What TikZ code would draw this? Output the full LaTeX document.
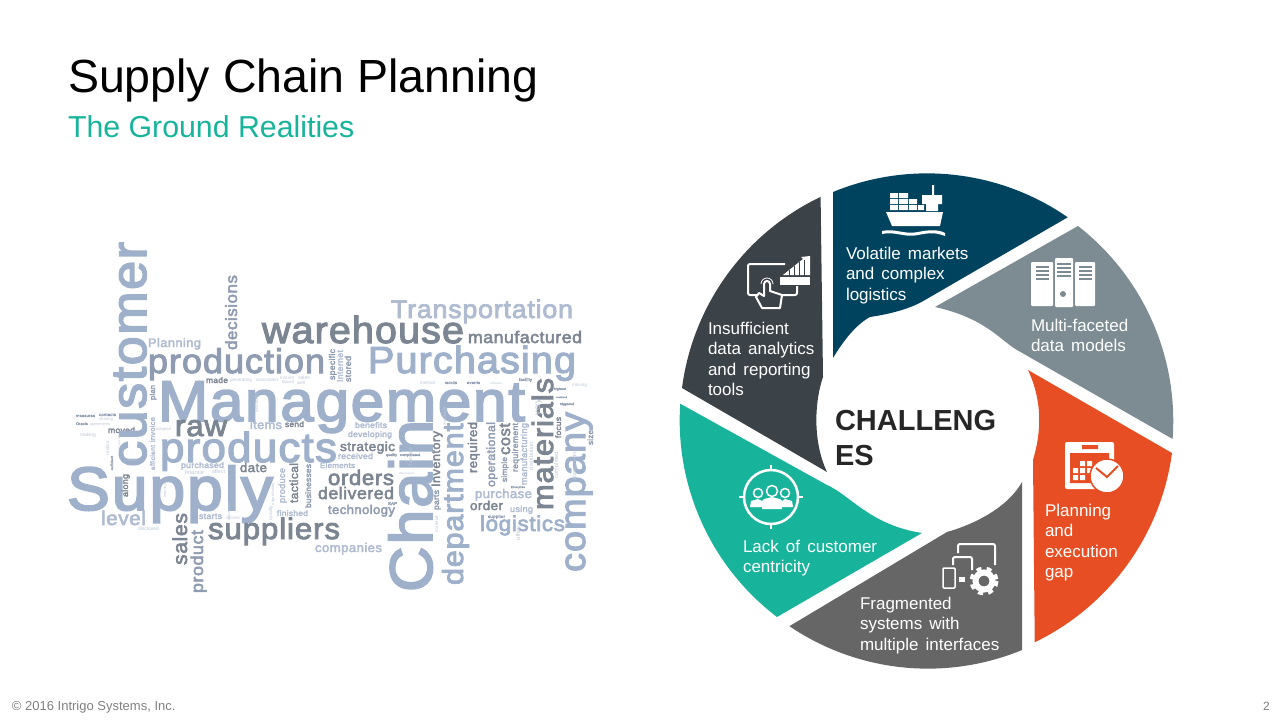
\documentclass[tikz,border=0pt]{standalone}
\usepackage{graphicx}
\usepackage{fontspec}
\setmainfont{Liberation Sans}
\newfontfamily\segfont[WordSpace=1.5]{Liberation Sans}
\newfontfamily\cloudfont[FakeBold=3,FakeStretch=1.05,LetterSpace=3]{Liberation Sans}
\definecolor{NavyFill}{HTML}{00435F}
\definecolor{SteelFill}{HTML}{7D8C93}
\definecolor{OrangeFill}{HTML}{E84E23}
\definecolor{MidFill}{HTML}{666666}
\definecolor{TealFill}{HTML}{17B49B}
\definecolor{SlateFill}{HTML}{3B4248}
\definecolor{CloudA}{HTML}{9FB0CB}
\definecolor{CloudB}{HTML}{7C8592}
\definecolor{CloudC}{HTML}{AEBBD1}
\definecolor{CloudD}{HTML}{8E9BB0}
\definecolor{CloudE}{HTML}{BDC6D6}
\newcommand{\fitword}[2]{\resizebox{#1pt}{!}{#2}}

\begin{document}
\begin{tikzpicture}[x=1pt,y=-1pt]
  \tikzset{CloudWord/.style = {
    inner sep     = 0pt,
    outer sep     = 0pt,
    anchor        = base west
    }
  }
  \tikzset{CloudBlue/.style  = {CloudWord, text = CloudA, font = \cloudfont}}
  \tikzset{CloudDark/.style  = {CloudWord, text = CloudB, font = \cloudfont}}
  \tikzset{CloudPale/.style  = {CloudWord, text = CloudC, font = \cloudfont}}
  \tikzset{CloudAsh/.style   = {CloudWord, text = CloudD, font = \cloudfont}}
  \tikzset{CloudTiny/.style  = {CloudWord, text = CloudE}}
  \tikzset{SegmentText/.style = {
    inner sep     = 0pt,
    outer sep     = 0pt,
    anchor        = north west,
    align         = left,
    text          = white,
    font          = \segfont\fontsize{17}{20.5}\selectfont
    }
  }
  \tikzset{PlainText/.style = {
    inner sep     = 0pt,
    outer sep     = 0pt,
    anchor        = base west
    }
  }

  \useasboundingbox (0,0) rectangle (1280,720);

  % titles
  \node[PlainText, font=\fontsize{46.5}{50}\selectfont, text=black](Title) at (68,92) {Supply Chain Planning};
  \node[PlainText, font=\fontsize{30.3}{34}\selectfont, text=TealFill](Subtitle) at (68,137) {The Ground Realities};
  \node[PlainText, font=\fontsize{13}{15}\selectfont, text=black!50](Footer) at (12,710) {\textcopyright{} 2016 Intrigo Systems, Inc.};
  \node[PlainText, font=\fontsize{12}{14}\selectfont, text=black!50](PageNo) at (1263,710) {2};

  % word cloud, horizontal
  \node[CloudBlue](W1) at (67,510) {\fitword{206}{Supply}};
  \node[CloudBlue](W2) at (158,421) {\fitword{367}{Management}};
  \node[CloudDark](W3) at (262,343) {\fitword{202}{warehouse}};
  \node[CloudPale](W4) at (391,318) {\fitword{182}{Transportation}};
  \node[CloudDark](W5) at (468,343) {\fitword{114}{manufactured}};
  \node[CloudAsh](W6) at (148,373) {\fitword{177}{production}};
  \node[CloudBlue](W7) at (368,373) {\fitword{208}{Purchasing}};
  \node[CloudPale](W8) at (148,347) {\fitword{53}{Planning}};
  \node[CloudDark](W9) at (175,436) {\fitword{52}{raw}};
  \node[CloudBlue](W10) at (160,462) {\fitword{177}{products}};
  \node[CloudDark](W11) at (108,433) {\fitword{27}{moved}};
  \node[CloudPale](W12) at (250,429) {\fitword{32}{items}};
  \node[CloudDark](W13) at (285,427) {\fitword{19}{send}};
  \node[CloudDark](W14) at (240,472) {\fitword{27}{date}};
  \node[CloudPale](W15) at (181,468) {\fitword{43}{purchased}};
  \node[CloudPale](W16) at (101,525) {\fitword{45}{level}};
  \node[CloudPale](W17) at (199,519) {\fitword{23}{starts}};
  \node[CloudPale](W18) at (277,516) {\fitword{31}{finished}};
  \node[CloudDark](W19) at (208,539) {\fitword{132}{suppliers}};
  \node[CloudPale](W20) at (315,552) {\fitword{67}{companies}};
  \node[CloudDark](W21) at (340,451) {\fitword{55}{strategic}};
  \node[CloudPale](W22) at (348,437) {\fitword{44}{developing}};
  \node[CloudPale](W23) at (355,428) {\fitword{32}{benefits}};
  \node[CloudPale](W24) at (338,459) {\fitword{35}{received}};
  \node[CloudPale](W25) at (320,468) {\fitword{35}{Elements}};
  \node[CloudDark](W26) at (328,485) {\fitword{66}{orders}};
  \node[CloudDark](W27) at (318,499) {\fitword{76}{delivered}};
  \node[CloudAsh](W28) at (328,514) {\fitword{67}{technology}};
  \node[CloudPale](W29) at (475,498) {\fitword{57}{purchase}};
  \node[CloudDark](W30) at (470,510) {\fitword{33}{order}};
  \node[CloudPale](W31) at (510,512) {\fitword{23}{using}};
  \node[CloudBlue](W32) at (480,531) {\fitword{85}{logistics}};
  \node[CloudDark](W33) at (206,383) {\fitword{22}{made}};

  % word cloud, vertical
  \node[CloudBlue, rotate=90](V1) at (146,467) {\fitword{225}{customer}};
  \node[CloudAsh, rotate=90](V2) at (237,350) {\fitword{75}{decisions}};
  \node[CloudBlue, rotate=90](V3) at (432,592) {\fitword{172}{Chain}};
  \node[CloudDark, rotate=90](V4) at (553,510) {\fitword{132}{materials}};
  \node[CloudBlue, rotate=90](V5) at (585,572) {\fitword{160}{company}};
  \node[CloudBlue, rotate=90](V6) at (463,585) {\fitword{162}{department}};
  \node[CloudDark, rotate=90](V7) at (477,473) {\fitword{51}{required}};
  \node[CloudAsh, rotate=90](V8) at (495,487) {\fitword{65}{operational}};
  \node[CloudDark, rotate=90](V9) at (510,455) {\fitword{32}{cost}};
  \node[CloudAsh, rotate=90](V10) at (507,482) {\fitword{25}{simple}};
  \node[CloudAsh, rotate=90](V11) at (518,472) {\fitword{49}{requirement}};
  \node[CloudPale, rotate=90](V12) at (527,485) {\fitword{62}{manufacturing}};
  \node[CloudDark, rotate=90](V13) at (440,487) {\fitword{56}{Inventory}};
  \node[CloudAsh, rotate=90](V14) at (439,510) {\fitword{20}{parts}};
  \node[CloudDark, rotate=90](V15) at (561,438) {\fitword{21}{focus}};
  \node[CloudAsh, rotate=90](V16) at (593,445) {\fitword{15}{size}};
  \node[CloudAsh, rotate=90](V17) at (335,380) {\fitword{31}{specific}};
  \node[CloudPale, rotate=90](V18) at (343,382) {\fitword{32}{Internet}};
  \node[CloudAsh, rotate=90](V19) at (351,382) {\fitword{26}{stored}};
  \node[CloudDark, rotate=90](V20) at (187,565) {\fitword{52}{sales}};
  \node[CloudAsh, rotate=90](V21) at (203,593) {\fitword{63}{product}};
  \node[CloudDark, rotate=90](V22) at (128,497) {\fitword{23}{along}};
  \node[CloudDark, rotate=90](V23) at (298,503) {\fitword{40}{tactical}};
  \node[CloudPale, rotate=90](V24) at (285,503) {\fitword{35}{produce}};
  \node[CloudAsh, rotate=90](V25) at (311,508) {\fitword{44}{businesses}};
  \node[CloudPale, rotate=90](V26) at (155,470) {\fitword{25}{efficient}};
  \node[CloudPale, rotate=90](V27) at (155,442) {\fitword{25}{invoice}};
  \node[CloudAsh, rotate=90](V28) at (155,400) {\fitword{15}{plan}};

  % word cloud, small print
  \node[CloudAsh](T1) at (76,417) {\fitword{19}{measures}};
  \node[CloudAsh](T2) at (99,416) {\fitword{17}{contacts}};
  \node[CloudTiny](T3) at (99,420) {\fitword{14}{sharing}};
  \node[CloudAsh](T4) at (76,425) {\fitword{12}{Oracle}};
  \node[CloudTiny](T5) at (90,425) {\fitword{20}{agreements}};
  \node[CloudTiny](T6) at (80,436) {\fitword{16}{making}};
  \node[CloudTiny](T7) at (156,430) {\fitword{15}{adopted}};
  \node[CloudTiny](T8) at (230,381) {\fitword{22}{generating}};
  \node[CloudTiny](T9) at (256,381) {\fitword{22}{associated}};
  \node[CloudTiny](T10) at (280,379) {\fitword{14}{Instant}};
  \node[CloudTiny](T11) at (298,379) {\fitword{12}{sales}};
  \node[CloudTiny](T12) at (282,383) {\fitword{12}{Based}};
  \node[CloudTiny](T13) at (297,384) {\fitword{8}{well}};
  \node[CloudTiny](T14) at (128,461) {\fitword{9}{ERP}};
  \node[CloudTiny](T15) at (212,473) {\fitword{13}{affect}};
  \node[CloudTiny](T16) at (185,474) {\fitword{19}{finance}};
  \node[CloudTiny](T17) at (226,519) {\fitword{14}{arrives}};
  \node[CloudTiny](T18) at (138,530) {\fitword{21}{disclosed}};
  \node[CloudAsh](T19) at (388,505) {\fitword{9}{SAP}};
  \node[CloudAsh](T20) at (488,518) {\fitword{17}{supplier}};
  \node[CloudTiny](T21) at (420,384) {\fitword{15}{method}};
  \node[CloudAsh](T22) at (445,384) {\fitword{12}{words}};
  \node[CloudAsh](T23) at (467,384) {\fitword{13}{events}};
  \node[CloudTiny](T24) at (490,384) {\fitword{12}{software}};
  \node[CloudAsh](T25) at (519,381) {\fitword{13}{facility}};
  \node[CloudAsh](T26) at (554,390) {\fitword{12}{highest}};
  \node[CloudTiny](T27) at (572,386) {\fitword{15}{moving}};
  \node[CloudAsh](T28) at (556,398) {\fitword{11}{contained}};
  \node[CloudAsh](T29) at (560,405) {\fitword{14}{triggered}};
  \node[CloudAsh](T30) at (386,456) {\fitword{11}{quality}};
  \node[CloudAsh](T31) at (400,456) {\fitword{20}{complicated}};
  \node[CloudTiny](T32) at (399,474) {\fitword{15}{Web-based}};
  \node[CloudAsh](T33) at (511,488) {\fitword{14}{Enterprise}};
  \node[CloudTiny, rotate=90](T34) at (120,452) {\fitword{18}{communication}};
  \node[CloudTiny, rotate=90](T35) at (109,455) {\fitword{14}{realize}};
  \node[CloudAsh, rotate=90](T36) at (113,470) {\fitword{14}{sufficient}};
  \node[CloudTiny, rotate=90](T37) at (166,497) {\fitword{13}{industry}};
  \node[CloudTiny, rotate=90](T38) at (230,520) {\fitword{18}{satisfaction}};
  \node[CloudTiny, rotate=90](T39) at (274,505) {\fitword{22}{organization}};
  \node[CloudTiny, rotate=90](T40) at (272,520) {\fitword{14}{quality}};
  \node[CloudTiny, rotate=90](T41) at (412,468) {\fitword{20}{changes}};
  \node[CloudTiny, rotate=90](T42) at (446,425) {\fitword{18}{available}};
  \node[CloudTiny, rotate=90](T43) at (492,468) {\fitword{24}{manufacture}};
  \node[CloudTiny, rotate=90](T44) at (540,415) {\fitword{16}{very}};
  \node[CloudTiny, rotate=90](T45) at (533,470) {\fitword{28}{distribution}};
  \node[CloudTiny, rotate=90](T46) at (558,478) {\fitword{26}{completed}};
  \node[CloudTiny, rotate=90](T47) at (576,480) {\fitword{28}{components}};
  \node[CloudTiny, rotate=90](T48) at (438,532) {\fitword{16}{material}};
  \node[CloudTiny, rotate=90](T49) at (520,540) {\fitword{14}{office}};
  \node[CloudTiny, rotate=90](T50) at (258,412) {\fitword{19}{services}};

  % segments, starting at the ship and going clockwise
  \fill[NavyFill] (833,192) arc[start angle=-112.4, end angle=-55.3, radius=247] -- (925,300)
    .. controls (910,309) and (890,314) .. (870,317) .. controls (855,325) and (842,343) .. (833,358) -- cycle;
  \fill[SteelFill] (1078,226) arc[start angle=-52.1, end angle=4.2, radius=247] -- (1017,350)
    .. controls (1000,340) and (985,318) .. (935,307) -- cycle;
  \fill[OrangeFill] (1172,453) arc[start angle=7.7, end angle=64.2, radius=247] -- (1033,460)
    .. controls (1042,430) and (1042,400) .. (1028,370) -- cycle;
  \fill[MidFill] (1022,650) arc[start angle=67.6, end angle=124.1, radius=247] -- (947,532)
    .. controls (965,527) and (1005,512) .. (1022,482) -- cycle;
  \fill[TealFill] (777,617) arc[start angle=127.3, end angle=183.9, radius=247] -- (827,485)
    .. controls (850,495) and (870,525) .. (922,533) -- cycle;
  \fill[SlateFill] (682,388) arc[start angle=187.4, end angle=244.5, radius=247] -- (823,377)
    .. controls (815,400) and (812,440) .. (827,472) -- cycle;

  % segment texts
  \node[SegmentText](TxtMarkets) at (846,247) {Volatile markets\\and complex\\logistics};
  \node[SegmentText](TxtModels) at (1031,319) {Multi-faceted\\data models};
  \node[SegmentText](TxtGap) at (1045,504) {Planning\\and\\execution\\gap};
  \node[SegmentText](TxtSystems) at (860,597) {Fragmented\\systems with\\multiple interfaces};
  \node[SegmentText](TxtCustomer) at (743,540) {Lack of customer\\centricity};
  \node[SegmentText](TxtTools) at (708,322) {Insufficient\\data analytics\\and reporting\\tools};
  \node[PlainText, font=\bfseries\fontsize{29}{35}\selectfont, text=black!85, align=left, anchor=north west](Centre) at (835,410) {CHALLENG\\ES};

  % ship icon
  \fill[white] (890,193) rectangle (898,198) (899,193) rectangle (908,198)
    (890,199) rectangle (898,204) (899,199) rectangle (908,204) (909,199) rectangle (917,204)
    (890,205) rectangle (898,210) (899,205) rectangle (908,210) (909,205) rectangle (917,210) (918,205) rectangle (924,210);
  \fill[white] (932,185) rectangle (934,195) (922,195) rectangle (942,204) (926,204) rectangle (938,211);
  \fill[white] (886,212) -- (943,212) -- (940,226) -- (892,226) -- cycle;
  \fill[white] (882,231) .. controls (895,228) and (905,235) .. (918,232) .. controls (928,230) and (938,229) .. (945,233)
    -- (945,236) .. controls (935,232) and (928,233) .. (918,235) .. controls (905,238) and (895,231) .. (882,234) -- cycle;

  % server icon
  \fill[white, rounded corners=1pt] (1031,262) rectangle (1053,306) (1055,258) rectangle (1073,307) (1075,262) rectangle (1095,306);
  \draw[SteelFill, line width=1.5pt] (1036,267) -- (1049,267) (1036,271) -- (1049,271) (1036,275) -- (1049,275) (1036,279) -- (1049,279)
    (1057,264) -- (1071,264) (1057,268) -- (1071,268) (1057,272) -- (1071,272) (1057,276) -- (1071,276)
    (1079,267) -- (1092,267) (1079,271) -- (1092,271) (1079,275) -- (1092,275) (1079,279) -- (1092,279);
  \fill[SteelFill] (1063,294) circle (3);

  % calendar and clock icon
  \fill[white, rounded corners=2pt] (1065,442) rectangle (1114,489);
  \fill[OrangeFill] (1070,453) rectangle (1109,483) (1082,445) rectangle (1098,449);
  \fill[white] (1073,468) rectangle (1078,473) (1080,468) rectangle (1085,473) (1087,468) rectangle (1092,473)
    (1073,475) rectangle (1078,480) (1080,475) rectangle (1085,480)
    (1080,461) rectangle (1085,466) (1087,461) rectangle (1092,466);
  \draw[OrangeFill, fill=white, line width=1.5pt] (1107,476) circle (17);
  \draw[OrangeFill, line width=2pt] (1096,468) -- (1107,477) -- (1118,466);

  % devices icon
  \draw[white, line width=2pt, rounded corners=2pt] (958,553) -- (958,544) -- (995,544) -- (995,565);
  \draw[white, line width=2pt, rounded corners=2pt] (953,565) -- (953,557) -- (972,557) -- (972,570);
  \draw[white, line width=1.5pt, rounded corners=1pt] (943,568) rectangle (955,588);
  \fill[white] (959,577) rectangle (965,582);
  \draw[white, line width=4pt, dash pattern=on 5pt off 5.2pt] (984,581) circle (12.5);
  \draw[white, line width=6pt] (984,581) circle (8.5);

  % people in a target icon
  \draw[white, line width=2.5pt] (771,497) circle (27);
  \draw[white, line width=2pt] (771,465) -- (771,470) (771,524) -- (771,529) (739,497) -- (744,497) (798,497) -- (803,497);
  \draw[white, line width=1.5pt] (758,493) circle (4.5) (785,493) circle (4.5) (772,491) circle (5.5);
  \fill[white] (750,507) -- (751,501) -- (758,499) -- (762,501) -- (764,499) -- (772,497) -- (780,499) -- (782,501) -- (785,499) -- (792,501) -- (793,507) -- (782,507) -- (782,509) -- (762,509) -- (762,507) -- cycle;

  % tablet and chart icon
  \draw[white, line width=2pt, rounded corners=2pt] (797,286) -- (797,295) -- (748,295) -- (748,264) -- (785,264);
  \fill[white] (780,277) rectangle (810,285);
  \fill[white] (783,275) -- (803,259) -- (801,257) -- (810,256) -- (810,275) -- cycle;
  \draw[SlateFill, line width=1pt] (789,276) -- (789,270) (794,276) -- (794,266) (799,276) -- (799,262) (804,276) -- (804,260);
  \draw[white, fill=SlateFill, line width=2pt, line join=round] (762,308) -- (756,297) -- (759,293) -- (764,296) -- (764,284)
    .. controls (764,280) and (770,280) .. (770,284) -- (770,291) -- (782,295) -- (780,308) -- cycle;
  \draw[white, line width=0.8pt] (761,284) arc[start angle=180, end angle=360, radius=6];
\end{tikzpicture}
\end{document}
